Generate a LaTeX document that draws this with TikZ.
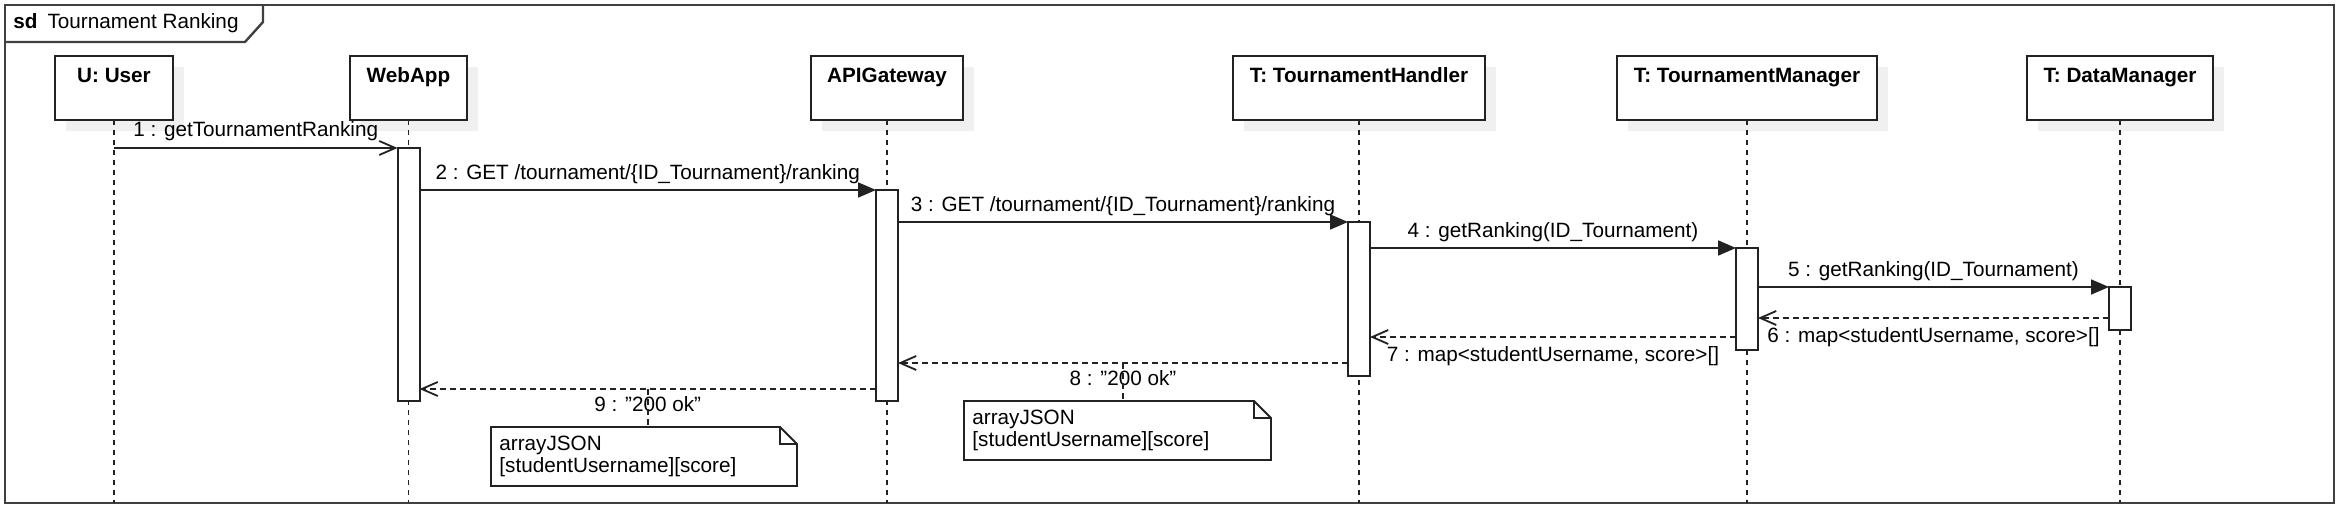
\documentclass[tikz,border=0pt]{standalone}
\usepackage{fontspec}
\setmainfont{Liberation Sans}
\usetikzlibrary{arrows.meta,shadows}
\definecolor{linecol}{HTML}{222222}
\definecolor{framecol}{HTML}{404040}
\definecolor{shadecol}{HTML}{F0F0F0}
\tikzset{
  pbox/.style={draw=linecol, line width=1pt, fill=white, inner sep=0pt, outer sep=0pt,
    minimum height=32pt,
    drop shadow={shadow xshift=5.5pt, shadow yshift=-5.5pt, fill=shadecol, opacity=1}},
  ptitle/.style={font=\fontsize{10.35}{12.4}\selectfont\bfseries, anchor=base, inner sep=0pt},
  lifeline/.style={draw=linecol, line width=0.8pt, dash pattern=on 2.5pt off 2.5pt},
  actbox/.style={draw=linecol, line width=1pt, fill=white, inner sep=0pt, outer sep=0pt, minimum width=11pt},
  syncmsg/.style={draw=linecol, line width=0.9pt, -{Triangle[length=9pt,width=7.5pt]}},
  asyncmsg/.style={draw=linecol, line width=0.9pt, -{Straight Barb[length=8pt,width=7pt]}},
  retmsg/.style={draw=linecol, line width=0.9pt, dash pattern=on 3pt off 2pt, -{Straight Barb[length=8pt,width=7pt]}},
  lbl/.style={inner sep=0pt, anchor=base},
  notebox/.style={inner sep=0pt, outer sep=0pt, minimum height=29.5pt},
  noteline/.style={draw=linecol, line width=0.9pt},
  anchorline/.style={draw=linecol, line width=0.8pt, dash pattern=on 3pt off 2pt},
  notetext/.style={inner sep=0pt, anchor=base west}
}
\begin{document}
\begin{tikzpicture}[x=0.5pt,y=-0.5pt, font=\fontsize{10.35}{12.4}\selectfont]
\useasboundingbox (0,0) rectangle (2348,518);
% frame
\draw[framecol, line width=1.2pt] (5,5) rectangle (2334,503);
\draw[framecol, line width=1.2pt] (5,42) -- (245,42) -- (263,22) -- (263,5);
\node[anchor=base west, inner sep=0pt] (title) at (13,29) {\textbf{sd}\hspace{5pt}Tournament Ranking};
\coordinate (fb) at (0,503);

% participants
\node[pbox, minimum width=59pt] (user) at (114,88) {};
\node[pbox, minimum width=58.5pt] (web) at (408.5,88) {};
\node[pbox, minimum width=76pt] (api) at (887,88) {};
\node[pbox, minimum width=126pt] (th) at (1359,88) {};
\node[pbox, minimum width=130pt] (tm) at (1747,88) {};
\node[pbox, minimum width=93pt] (dm) at (2120,88) {};
\node[ptitle] (userT) at (114,83) {U: User};
\node[ptitle] (webT) at (408.5,83) {WebApp};
\node[ptitle] (apiT) at (887,83) {APIGateway};
\node[ptitle] (thT) at (1359,83) {T: TournamentHandler};
\node[ptitle] (tmT) at (1747,83) {T: TournamentManager};
\node[ptitle] (dmT) at (2120,83) {T: DataManager};

% lifelines
\foreach \p in {user,web,api,th,tm,dm}{
  \draw[lifeline] (\p.south) -- (\p.south |- fb);
}

% activations
\node[actbox, minimum height=126.5pt] (webA) at (408.5,274.5) {};
\node[actbox, minimum height=105.5pt] (apiA) at (887,295.5) {};
\node[actbox, minimum height=77pt] (thA) at (1359,299) {};
\node[actbox, minimum height=51pt] (tmA) at (1747,299) {};
\node[actbox, minimum height=21.5pt] (dmA) at (2120,308.5) {};

% message y levels for returns
\coordinate (y6) at (0,318);
\coordinate (y7) at (0,337);
\coordinate (y8) at (0,363);
\coordinate (y9) at (0,389);

% calls
\draw[asyncmsg] (user.south |- webA.north) -- (webA.north west)
  node[lbl, midway, yshift=5.5pt] (l1) {1 : getTournamentRanking};
\draw[syncmsg] (webA.east |- apiA.north) -- (apiA.north west)
  node[lbl, midway, yshift=5pt] (l2) {2 : GET /tournament/\{ID\_Tournament\}/ranking};
\draw[syncmsg] (apiA.east |- thA.north) -- (thA.north west)
  node[lbl, midway, yshift=5pt] (l3) {3 : GET /tournament/\{ID\_Tournament\}/ranking};
\draw[syncmsg] (thA.east |- tmA.north) -- (tmA.north west)
  node[lbl, midway, yshift=5pt] (l4) {4 : getRanking(ID\_Tournament)};
\draw[syncmsg] (tmA.east |- dmA.north) -- (dmA.north west)
  node[lbl, midway, yshift=5pt] (l5) {5 : getRanking(ID\_Tournament)};

% returns
\draw[retmsg] (dmA.west |- y6) -- (tmA.east |- y6)
  node[lbl, midway, yshift=-12pt] (l6) {6 : map<studentUsername, score>[]};
\draw[retmsg] (tmA.west |- y7) -- (thA.east |- y7)
  node[lbl, midway, yshift=-12pt] (l7) {7 : map<studentUsername, score>[]};
\draw[retmsg] (thA.west |- y8) -- (apiA.east |- y8)
  coordinate[midway] (c8)
  node[lbl, midway, yshift=-11pt] (l8) {8 : "200 ok"};
\draw[retmsg] (apiA.west |- y9) -- (webA.east |- y9)
  coordinate[midway] (c9)
  node[lbl, midway, yshift=-11pt] (l9) {9 : "200 ok"};

% notes
\node[notebox, minimum width=153pt] (n9) at (644,456.5) {};
\node[notebox, minimum width=153.5pt] (n8) at (1117.5,430.5) {};
\foreach \n in {n8,n9}{
  \draw[noteline, fill=white, line join=miter] (\n.north west) -- ([xshift=-8.5pt]\n.north east)
    -- ([yshift=-8.5pt]\n.north east) -- (\n.south east) -- (\n.south west) -- cycle;
  \draw[noteline] ([xshift=-8.5pt]\n.north east) |- ([yshift=-8.5pt]\n.north east);
}
\draw[anchorline] (c9) -- (c9 |- n9.north);
\draw[anchorline] (c8) -- (c8 |- n8.north);
\node[notetext] (n9a) at (499,450) {arrayJSON};
\node[notetext] (n9b) at (499,472) {[studentUsername][score]};
\node[notetext] (n8a) at (972,424) {arrayJSON};
\node[notetext] (n8b) at (972,446) {[studentUsername][score]};
\end{tikzpicture}
\end{document}
